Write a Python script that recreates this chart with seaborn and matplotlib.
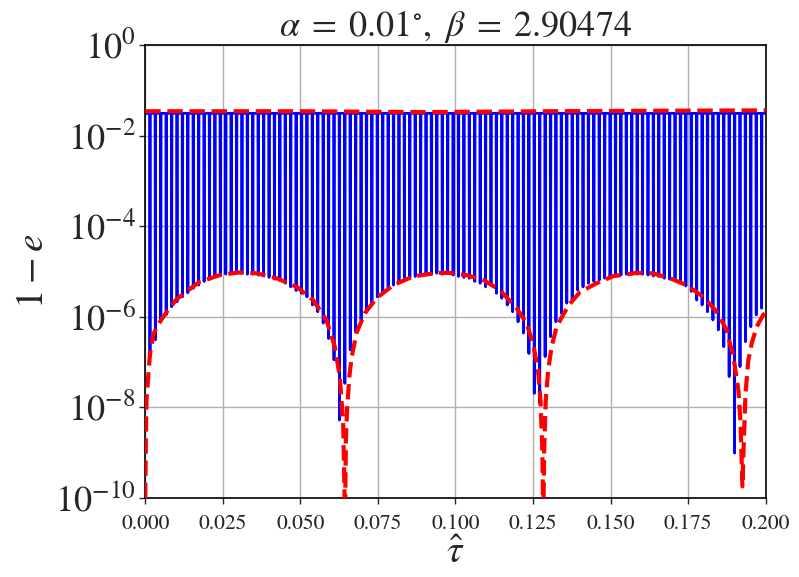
import numpy as np
import pandas as pd
import matplotlib
matplotlib.use("Agg")
import matplotlib.pyplot as plt
import seaborn as sns
from matplotlib.ticker import NullLocator, FixedLocator

# ---------------- data ----------------
# centres of the blue oscillation minima (tau-hat)
spike_x = [
    0.00152, 0.00326, 0.00501, 0.00675, 0.00850, 0.01024, 0.01199, 0.01373, 0.01548, 0.01722,
    0.01897, 0.02071, 0.02246, 0.02420, 0.02595, 0.02769, 0.02944, 0.03118, 0.03293, 0.03467,
    0.03642, 0.03816, 0.03991, 0.04165, 0.04340, 0.04514, 0.04689, 0.04863, 0.05038, 0.05212,
    0.05387, 0.05561, 0.05736, 0.05910, 0.06085, 0.06259, 0.06434, 0.06608, 0.06783, 0.06957,
    0.07132, 0.07306, 0.07481, 0.07655, 0.07830, 0.08004, 0.08179, 0.08353, 0.08528, 0.08702,
    0.08877, 0.09051, 0.09226, 0.09400, 0.09575, 0.09749, 0.09924, 0.10098, 0.10273, 0.10447,
    0.10622, 0.10796, 0.10971, 0.11145, 0.11320, 0.11494, 0.11669, 0.11843, 0.12018, 0.12192,
    0.12367, 0.12541, 0.12716, 0.12890, 0.13065, 0.13239, 0.13414, 0.13588, 0.13763, 0.13937,
    0.14112, 0.14286, 0.14461, 0.14635, 0.14810, 0.14984, 0.15159, 0.15333, 0.15508, 0.15682,
    0.15857, 0.16031, 0.16206, 0.16380, 0.16555, 0.16729, 0.16904, 0.17078, 0.17253, 0.17427,
    0.17602, 0.17776, 0.17951, 0.18125, 0.18300, 0.18474, 0.18649, 0.18823, 0.18998, 0.19172,
    0.19347, 0.19521, 0.19696, 0.19870,
]
# depth of each blue minimum (1 - e)
spike_min = [
    1.32e-7, 3.09e-7, 7.76e-7, 1.10e-6, 1.66e-6, 2.14e-6, 2.75e-6, 3.39e-6, 4.27e-6, 5.01e-6,
    6.03e-6, 6.76e-6, 7.76e-6, 8.32e-6, 8.71e-6, 9.12e-6, 9.12e-6, 9.12e-6, 8.71e-6, 8.71e-6,
    8.32e-6, 7.94e-6, 7.41e-6, 6.76e-6, 6.31e-6, 5.50e-6, 4.57e-6, 3.80e-6, 3.31e-6, 2.75e-6,
    1.82e-6, 1.29e-6, 7.24e-7, 3.31e-7, 1.12e-7, 5.25e-9, 3.39e-8, 1.86e-7, 4.68e-7, 8.51e-7,
    1.29e-6, 2.00e-6, 2.75e-6, 3.31e-6, 4.27e-6, 5.01e-6, 6.03e-6, 6.46e-6, 7.08e-6, 7.76e-6,
    8.32e-6, 8.32e-6, 8.71e-6, 9.12e-6, 8.71e-6, 9.12e-6, 8.32e-6, 7.76e-6, 7.41e-6, 7.08e-6,
    6.03e-6, 5.50e-6, 4.57e-6, 5.01e-6, 3.31e-6, 2.57e-6, 1.82e-6, 1.29e-6, 7.76e-7, 4.37e-7,
    1.55e-7, 2.04e-8, 1.23e-8, 1.32e-7, 3.63e-7, 7.76e-7, 1.20e-6, 2.00e-6, 2.34e-6, 3.89e-6,
    4.57e-6, 5.50e-6, 6.03e-6, 6.46e-6, 7.08e-6, 7.76e-6, 7.94e-6, 8.32e-6, 8.71e-6, 8.71e-6,
    8.71e-6, 8.71e-6, 8.32e-6, 7.94e-6, 7.76e-6, 7.08e-6, 6.76e-6, 6.31e-6, 5.50e-6, 4.79e-6,
    3.63e-6, 2.34e-6, 1.82e-6, 1.29e-6, 8.51e-7, 5.13e-7, 2.19e-7, 4.79e-8, 9.77e-10, 7.94e-8,
    2.82e-7, 6.03e-7, 1.10e-6, 1.55e-6,
]
blue_top = 0.031  # level of the blue oscillation maxima

# red dashed lower envelope
red_lo_x = [
    0.0, 0.0002, 0.0004, 0.001, 0.0015, 0.0026, 0.004, 0.007, 0.010, 0.0125,
    0.0175, 0.024, 0.030, 0.036, 0.0423, 0.0488, 0.0542, 0.0584, 0.0611, 0.0627,
    0.0638, 0.0644, 0.0647, 0.0651, 0.0658, 0.0665, 0.0681, 0.0708, 0.0746, 0.0800,
    0.0864, 0.0940, 0.0982, 0.1036, 0.1090, 0.1143, 0.1197, 0.1229, 0.1250, 0.1266,
    0.1274, 0.1280, 0.1283, 0.1286, 0.1291, 0.1299, 0.1310, 0.1326, 0.1347, 0.1365,
    0.1401, 0.1455, 0.1509, 0.1584, 0.1637, 0.1691, 0.1745, 0.1799, 0.1842, 0.1874,
    0.1896, 0.1912, 0.1919, 0.1925, 0.1930, 0.1935, 0.1944, 0.1955, 0.1971, 0.1992,
    0.2000,
]
red_lo = [
    1.0e-10, 2.0e-9, 1.45e-8, 5.2e-8, 1.45e-7, 4.0e-7, 6.6e-7, 1.3e-6, 2.4e-6, 3.3e-6,
    5.9e-6, 8.3e-6, 9.5e-6, 9.1e-6, 7.1e-6, 4.6e-6, 2.3e-6, 8.5e-7, 2.2e-7, 4.8e-8,
    4.5e-9, 3.0e-11, 2.2e-9, 1.0e-8, 4.8e-8, 1.25e-7, 4.4e-7, 1.2e-6, 2.6e-6, 5.0e-6,
    7.8e-6, 9.3e-6, 9.3e-6, 8.3e-6, 6.5e-6, 3.9e-6, 1.55e-6, 7.2e-7, 2.6e-7, 6.8e-8,
    1.45e-8, 1.15e-9, 3.0e-11, 1.15e-9, 1.45e-8, 6.8e-8, 2.2e-7, 6.0e-7, 1.1e-6, 1.8e-6,
    3.5e-6, 5.5e-6, 7.9e-6, 9.3e-6, 9.1e-6, 7.1e-6, 5.0e-6, 2.75e-6, 1.3e-6, 5.1e-7,
    1.3e-7, 2.4e-8, 4.5e-9, 1.8e-10, 2.2e-9, 2.0e-8, 1.1e-7, 2.6e-7, 6.0e-7, 1.1e-6,
    1.25e-6,
]

# red dashed upper envelope
red_up_x = [0.0, 0.05, 0.09, 0.13, 0.17, 0.2]
red_up = [0.0345, 0.0345, 0.0330, 0.0345, 0.0355, 0.0360]

y_ticks = [1e-10, 1e-8, 1e-6, 1e-4, 1e-2, 1e0]
x_ticks = [0.0, 0.025, 0.05, 0.075, 0.1, 0.125, 0.15, 0.175, 0.2]
x_tick_labels = ["0.000", "0.025", "0.050", "0.075", "0.100", "0.125", "0.150", "0.175", "0.200"]
title_text = r"$\alpha\;=\;0.01^{\circ},\ \beta\;=\;2.90474$"
x_label = r"$\hat{\tau}$"
y_label = r"$1-e$"

# ---------------- styling ----------------
sns.set_style("ticks")
plt.rcParams["font.family"] = ["STIXGeneral", "DejaVu Serif"]
plt.rcParams["mathtext.fontset"] = "stix"

fig = plt.figure(figsize=(7.99, 5.77), dpi=100)
ax = fig.add_axes([0.1818, 0.137, 0.7765, 0.785])
ax.set_yscale("log")

# blue oscillation built from the read maxima level and minima
spike_halfwidth = 0.00009
bx, by = [0.0], [blue_top]
for xs, ms in zip(spike_x, spike_min):
    bx += [xs - spike_halfwidth, xs, xs + spike_halfwidth]
    by += [blue_top, ms, blue_top]
bx.append(0.2)
by.append(blue_top)
blue_df = pd.DataFrame({"tau": bx, "val": by})
lo_df = pd.DataFrame({"tau": red_lo_x, "val": red_lo})
up_df = pd.DataFrame({"tau": red_up_x, "val": red_up})

sns.lineplot(data=blue_df, x="tau", y="val", sort=False, estimator=None,
             color="blue", lw=2.0, ax=ax, zorder=2)
sns.lineplot(data=up_df, x="tau", y="val", sort=False, estimator=None,
             color="red", lw=3, linestyle="--", ax=ax, zorder=3)
sns.lineplot(data=lo_df, x="tau", y="val", sort=False, estimator=None,
             color="red", lw=3, linestyle="--", ax=ax, zorder=3)

ax.set_xlim(0, 0.2)
ax.set_ylim(1e-10, 1e0)
ax.yaxis.set_major_locator(FixedLocator(y_ticks))
ax.yaxis.set_minor_locator(NullLocator())
ax.set_xticks(x_ticks)
ax.set_xticklabels(x_tick_labels)
ax.tick_params(axis="y", labelsize=26, length=4, width=1, pad=3)
ax.tick_params(axis="x", labelsize=15.5, length=4, width=1, pad=8)
ax.grid(True, color="#b0b0b0", lw=1.0, zorder=0)
ax.set_axisbelow(True)
for s in ax.spines.values():
    s.set_color("black")
    s.set_linewidth(1.2)

ax.set_title(title_text, fontsize=26, pad=5)
ax.set_xlabel(x_label, fontsize=28, labelpad=1)
ax.set_ylabel(y_label, fontsize=28, labelpad=3)

fig.savefig("out.png", dpi=100)
